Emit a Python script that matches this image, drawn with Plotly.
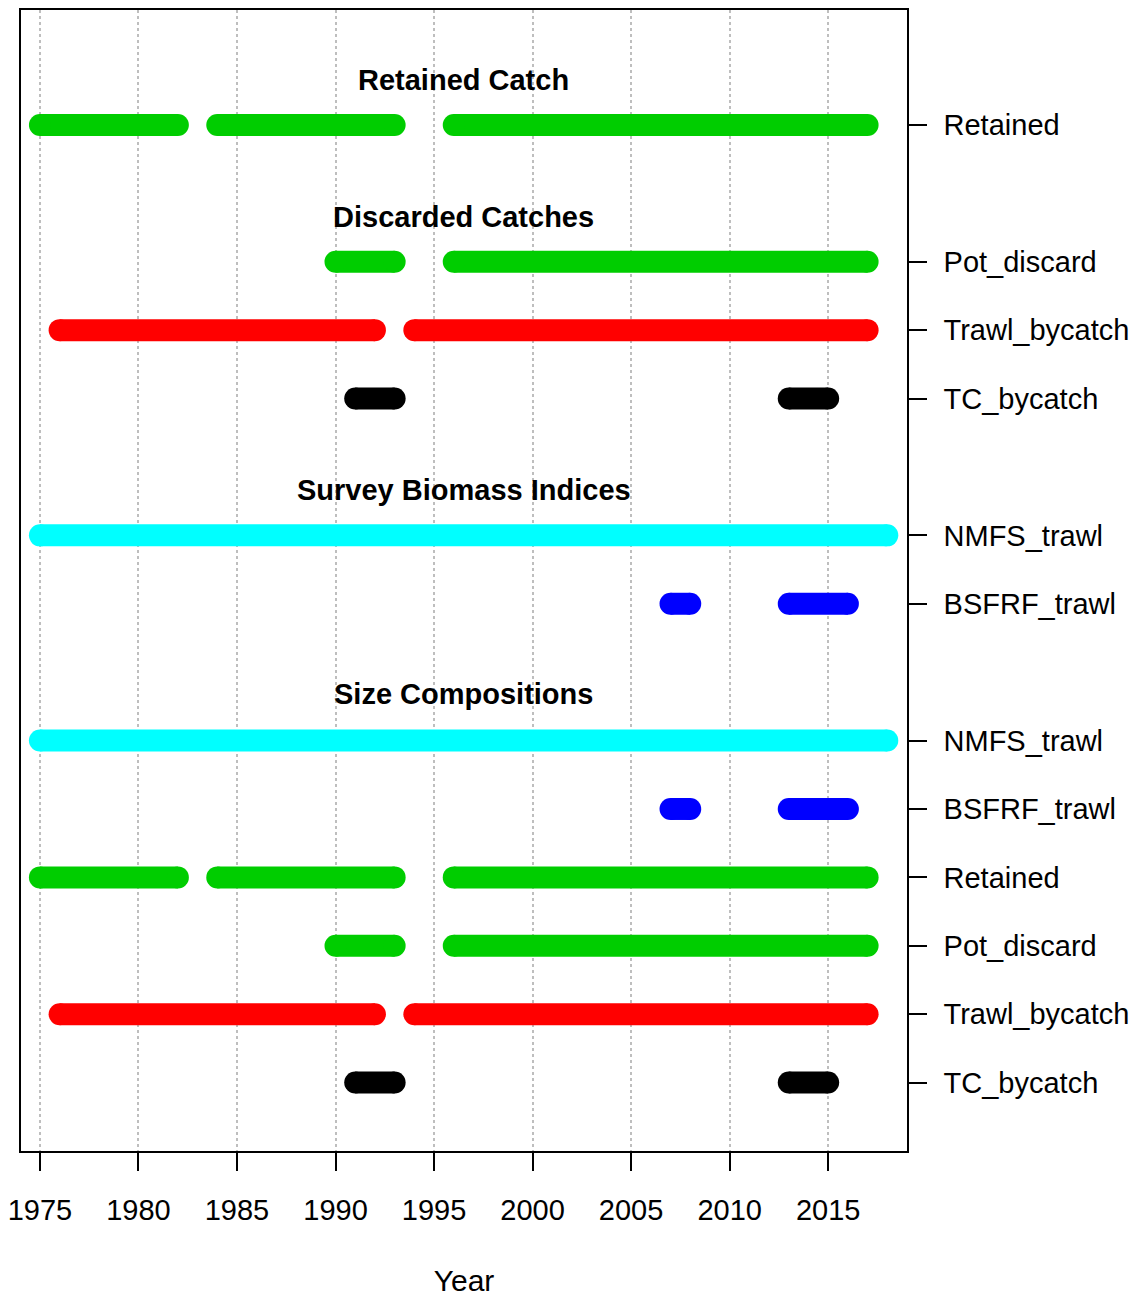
import plotly.graph_objects as go

# ---- data (year spans) ----
row_labels = ["TC_bycatch", "Trawl_bycatch", "Pot_discard", "Retained", "BSFRF_trawl", "NMFS_trawl",
              "BSFRF_trawl", "NMFS_trawl",
              "TC_bycatch", "Trawl_bycatch", "Pot_discard",
              "Retained"]
row_y = [1, 2, 3, 4, 5, 6, 8, 9, 11, 12, 13, 15]

retained_spans = [(1975, 1982), (1984, 1993), (1996, 2017)]
pot_spans = [(1990, 1993), (1996, 2017)]
trawl_spans = [(1976, 1992), (1994, 2017)]
tc_spans = [(1991, 1993), (2013, 2015)]
nmfs_spans = [(1975, 2018)]
bsfrf_spans = [(2007, 2008), (2013, 2016)]

series = [
    # (y, spans, colour)
    (15, retained_spans, "#00CD00"),
    (13, pot_spans, "#00CD00"),
    (12, trawl_spans, "#FF0000"),
    (11, tc_spans, "#000000"),
    (9, nmfs_spans, "#00FFFF"),
    (8, bsfrf_spans, "#0000FF"),
    (6, nmfs_spans, "#00FFFF"),
    (5, bsfrf_spans, "#0000FF"),
    (4, retained_spans, "#00CD00"),
    (3, pot_spans, "#00CD00"),
    (2, trawl_spans, "#FF0000"),
    (1, tc_spans, "#000000"),
]

headers = ["Retained Catch", "Discarded Catches", "Survey Biomass Indices", "Size Compositions"]
header_y = [15.65, 13.65, 9.67, 6.68]
header_x = 1996.5

x_ticks = [1975, 1980, 1985, 1990, 1995, 2000, 2005, 2010, 2015]

FONT = "Liberation Sans, Arial, sans-serif"
LW = 22

fig = go.Figure()
for y, spans, col in series:
    xs, ys = [], []
    for a, b in spans:
        xs += [a, b, None]
        ys += [y, y, None]
    fig.add_trace(go.Scatter(
        x=xs, y=ys, mode="lines+markers", connectgaps=False,
        line=dict(color=col, width=LW),
        marker=dict(color=col, size=LW, symbol="circle", line=dict(width=0)),
        showlegend=False, hoverinfo="skip"))

for t, hy in zip(headers, header_y):
    fig.add_annotation(x=header_x, y=hy, text="<b>%s</b>" % t, showarrow=False,
                       font=dict(family=FONT, size=29, color="black"),
                       xanchor="center", yanchor="middle")

# page body has an 8px margin, so the figure is shrunk by 8px and margins shifted
fig.update_layout(
    width=1135, height=1289,
    margin=dict(l=12, r=236, t=0, b=146),
    plot_bgcolor="white", paper_bgcolor="white",
    font=dict(family=FONT, size=29, color="black"),
    xaxis=dict(range=[1974.04, 2019.0], tickvals=x_ticks, ticktext=[str(v) for v in x_ticks],
               showgrid=True, gridcolor="#BEBEBE", gridwidth=1.5, griddash="dot",
               showline=True, linecolor="black", linewidth=1.5, mirror=True,
               ticks="outside", ticklen=18, tickwidth=1.5, tickcolor="black",
               ticklabelstandoff=14, ticklabeloverflow="allow", zeroline=False,
               title=dict(text="Year", standoff=46, font=dict(family=FONT, size=30))),
    yaxis=dict(range=[0.0, 16.68], side="right", tickvals=row_y, ticktext=row_labels,
               showgrid=False, zeroline=False,
               showline=True, linecolor="black", linewidth=1.5, mirror=True,
               ticks="outside", ticklen=18, tickwidth=1.5, tickcolor="black",
               ticklabelstandoff=11, ticklabeloverflow="allow"),
)

fig.write_html("out.html", config={"displayModeBar": False})
